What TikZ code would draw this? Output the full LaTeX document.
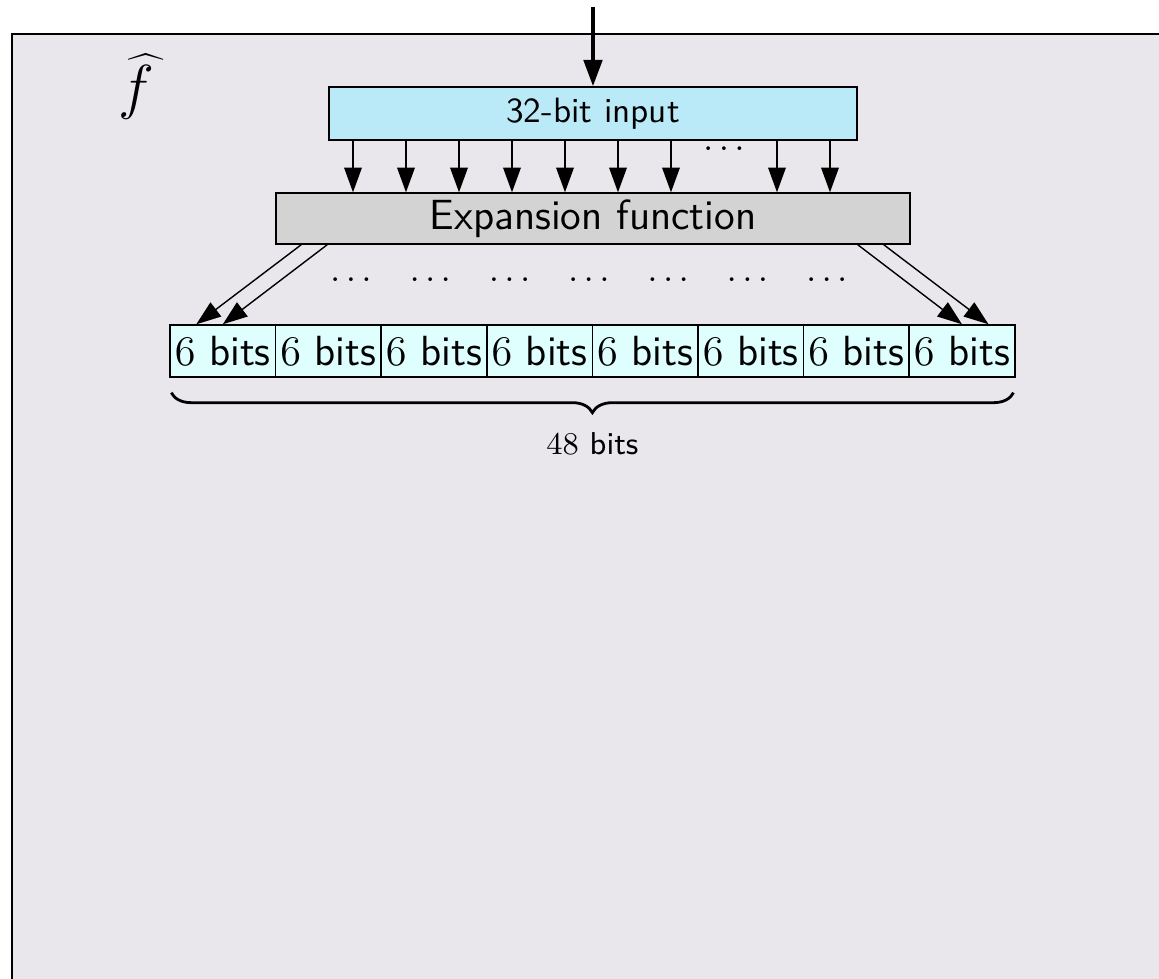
\documentclass[tikz,border=0pt]{standalone}
\usepackage{tikz}
\usetikzlibrary{arrows.meta,decorations.pathreplacing,calc}

\definecolor{framebg}{HTML}{E9E7EC}
\definecolor{inblue}{HTML}{BAE9F7}
\definecolor{cellcyan}{HTML}{DFFFFF}
\definecolor{expgray}{HTML}{D3D3D3}

\tikzset{
  box/.style={draw, inner sep=1pt, font=\sffamily},
  bitarrow/.style={-{Triangle[length=7pt,width=5pt]}},
}

\begin{document}
\begin{tikzpicture}

\useasboundingbox (0,0) rectangle (11.59,9.79);
\clip (0,0) rectangle (11.59,9.79);

\draw[semithick, fill=framebg] (0.12,-0.5) rectangle (12.2,9.45);

\node (fhat) at (1.36, 8.92) {\LARGE $\widehat{f}$};

\node[box, fill=inblue, minimum width=5.28cm, minimum height=0.53cm] (in) at (5.93, 8.655) {32-bit input};

\node[box, fill=expgray, minimum width=6.34cm, minimum height=0.51cm, font=\sffamily\large] (expand) at (5.93, 7.605) {Expansion function};

\foreach \i in {1,...,8}
  \node[box, fill=cellcyan, minimum width=1.056cm, minimum height=0.52cm, font=\sffamily\large] (c\i) at ({1.70+1.056*(\i-0.5)}, 6.28) {$6$ bits};

\coordinate (src) at (5.93, 9.72);
\draw[line width=1.2pt, -{Triangle[length=7.5pt,width=5.2pt]}] (src) -- (in.north);

% input bits into the expansion box
\foreach \i [evaluate=\i as \x using 3.53+0.53*\i] in {0,...,6,8,9}
  \draw[bitarrow] (\x,0 |- in.south) -- (\x,0 |- expand.north);
\node (indots) at (7.24, 8.30) {$\ldots$};

% outer cells
\draw[bitarrow] ($(expand.south west)+(0.26,0)$) -- ($(c1.north west)+(0.27,0)$);
\draw[bitarrow] ($(expand.south west)+(0.52,0)$) -- (c1.north);
\draw[bitarrow] ($(expand.south east)+(-0.53,0)$) -- (c8.north);
\draw[bitarrow] ($(expand.south east)+(-0.27,0)$) -- ($(c8.north east)+(-0.27,0)$);

\foreach \i in {0,...,6}
  \node (dots\i) at ({3.51+0.793*\i}, 6.99) {$\ldots$};

\draw[thick, decorate, decoration={brace, mirror, amplitude=0.2cm}]
  ($(c1.south west)+(0.02,-0.15)$) -- ($(c8.south east)+(-0.02,-0.15)$)
  node[midway, yshift=-0.51cm, font=\sffamily\small] (total) {$48$ bits};

\end{tikzpicture}
\end{document}
